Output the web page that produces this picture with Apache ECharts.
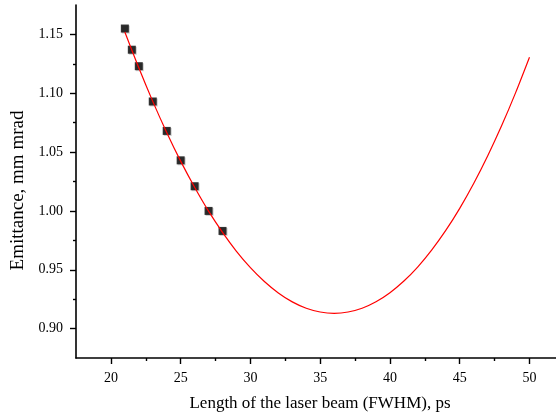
<!DOCTYPE html>
<html>
<head>
<meta charset="utf-8">
<script src="https://cdn.jsdelivr.net/npm/echarts@6/dist/echarts.min.js"></script>
<style>
  html, body { margin: 0; padding: 0; background: #fff; }
  #chart { width: 556px; height: 417px; }
</style>
</head>
<body>
<div id="chart"></div>
<script>
// measured points (laser length, ps / emittance)
const pulseLength = [21, 21.5, 22, 23, 24, 25, 26, 27, 28];
const emittance = [1.155, 1.137, 1.123, 1.093, 1.068, 1.043, 1.021, 1.000, 0.983];

// fit curve
const fitX = [21, 22, 23, 24, 25, 26, 27, 28, 29, 30, 31, 32, 33, 34, 35, 36, 37, 38, 39, 40,
              41, 42, 43, 44, 45, 46, 47, 48, 49, 50];
const fitY = [1.152, 1.1216, 1.0931, 1.0667, 1.0423, 1.0201, 0.9998, 0.9818, 0.9657, 0.9518,
              0.940, 0.9303, 0.9227, 0.9173, 0.9141, 0.913, 0.9141, 0.9173, 0.9228, 0.9305,
              0.9404, 0.9525, 0.9669, 0.9834, 1.0022, 1.0233, 1.0467, 1.0723, 1.1003, 1.1306];

// axis ticks
const xMajor = [20, 25, 30, 35, 40, 45, 50];
const xMinor = [22.5, 27.5, 32.5, 37.5, 42.5, 47.5];
const yMajor = [0.90, 0.95, 1.00, 1.05, 1.10, 1.15];
const yMinor = [0.925, 0.975, 1.025, 1.075, 1.125];

const font = 'Liberation Serif';
const chart = echarts.init(document.getElementById('chart'));

const axisLine = { show: true, lineStyle: { color: '#000', width: 1.6 } };
const tickLine = { color: '#000', width: 1.4 };

const option = {
    animation: false,
    backgroundColor: '#fff',
    grid: { left: 76, right: 0, top: 5, bottom: 59, containLabel: false },
    xAxis: [
        {
            type: 'value',
            min: 17.5,
            max: 51.9,
            position: 'bottom',
            name: 'Length of the laser beam (FWHM), ps',
            nameLocation: 'middle',
            nameGap: 37,
            nameTextStyle: { fontFamily: font, fontSize: 17, color: '#000', padding: [0, 0, 0, 8] },
            axisLine: axisLine,
            axisTick: { show: true, length: 6, customValues: xMajor, lineStyle: tickLine },
            axisLabel: { customValues: xMajor, margin: 13, fontFamily: font, fontSize: 14, color: '#000' },
            splitLine: { show: false }
        },
        {
            type: 'value',
            min: 17.5,
            max: 51.9,
            position: 'bottom',
            axisLine: { show: false },
            axisTick: { show: true, length: 3, customValues: xMinor, lineStyle: tickLine },
            axisLabel: { show: false },
            splitLine: { show: false }
        }
    ],
    yAxis: [
        {
            type: 'value',
            min: 0.875,
            max: 1.175,
            position: 'left',
            name: 'Emittance, mm mrad',
            nameLocation: 'middle',
            nameGap: 47,
            nameTextStyle: { fontFamily: font, fontSize: 19, color: '#000', padding: [0, 18, 0, 0] },
            axisLine: axisLine,
            axisTick: { show: true, length: 6, customValues: yMajor, lineStyle: tickLine },
            axisLabel: {
                customValues: yMajor, margin: 13, fontFamily: font, fontSize: 14, color: '#000',
                formatter: v => v.toFixed(2)
            },
            splitLine: { show: false }
        },
        {
            type: 'value',
            min: 0.875,
            max: 1.175,
            position: 'left',
            axisLine: { show: false },
            axisTick: { show: true, length: 3, customValues: yMinor, lineStyle: tickLine },
            axisLabel: { show: false },
            splitLine: { show: false }
        }
    ],
    series: [
        {
            name: 'data',
            type: 'scatter',
            xAxisIndex: 0,
            yAxisIndex: 0,
            symbol: 'rect',
            symbolSize: 8,
            itemStyle: { color: '#000', shadowColor: 'rgba(0,0,0,0.25)', shadowBlur: 0, shadowOffsetX: 1, shadowOffsetY: 1 },
            data: pulseLength.map((x, i) => [x, emittance[i]]),
            z: 2
        },
        {
            name: 'fit',
            type: 'line',
            xAxisIndex: 0,
            yAxisIndex: 0,
            smooth: 0.3,
            showSymbol: false,
            lineStyle: { color: '#ff0000', width: 1.2 },
            data: fitX.map((x, i) => [x, fitY[i]]),
            z: 3
        }
    ]
};

chart.setOption(option);
</script>
</body>
</html>
